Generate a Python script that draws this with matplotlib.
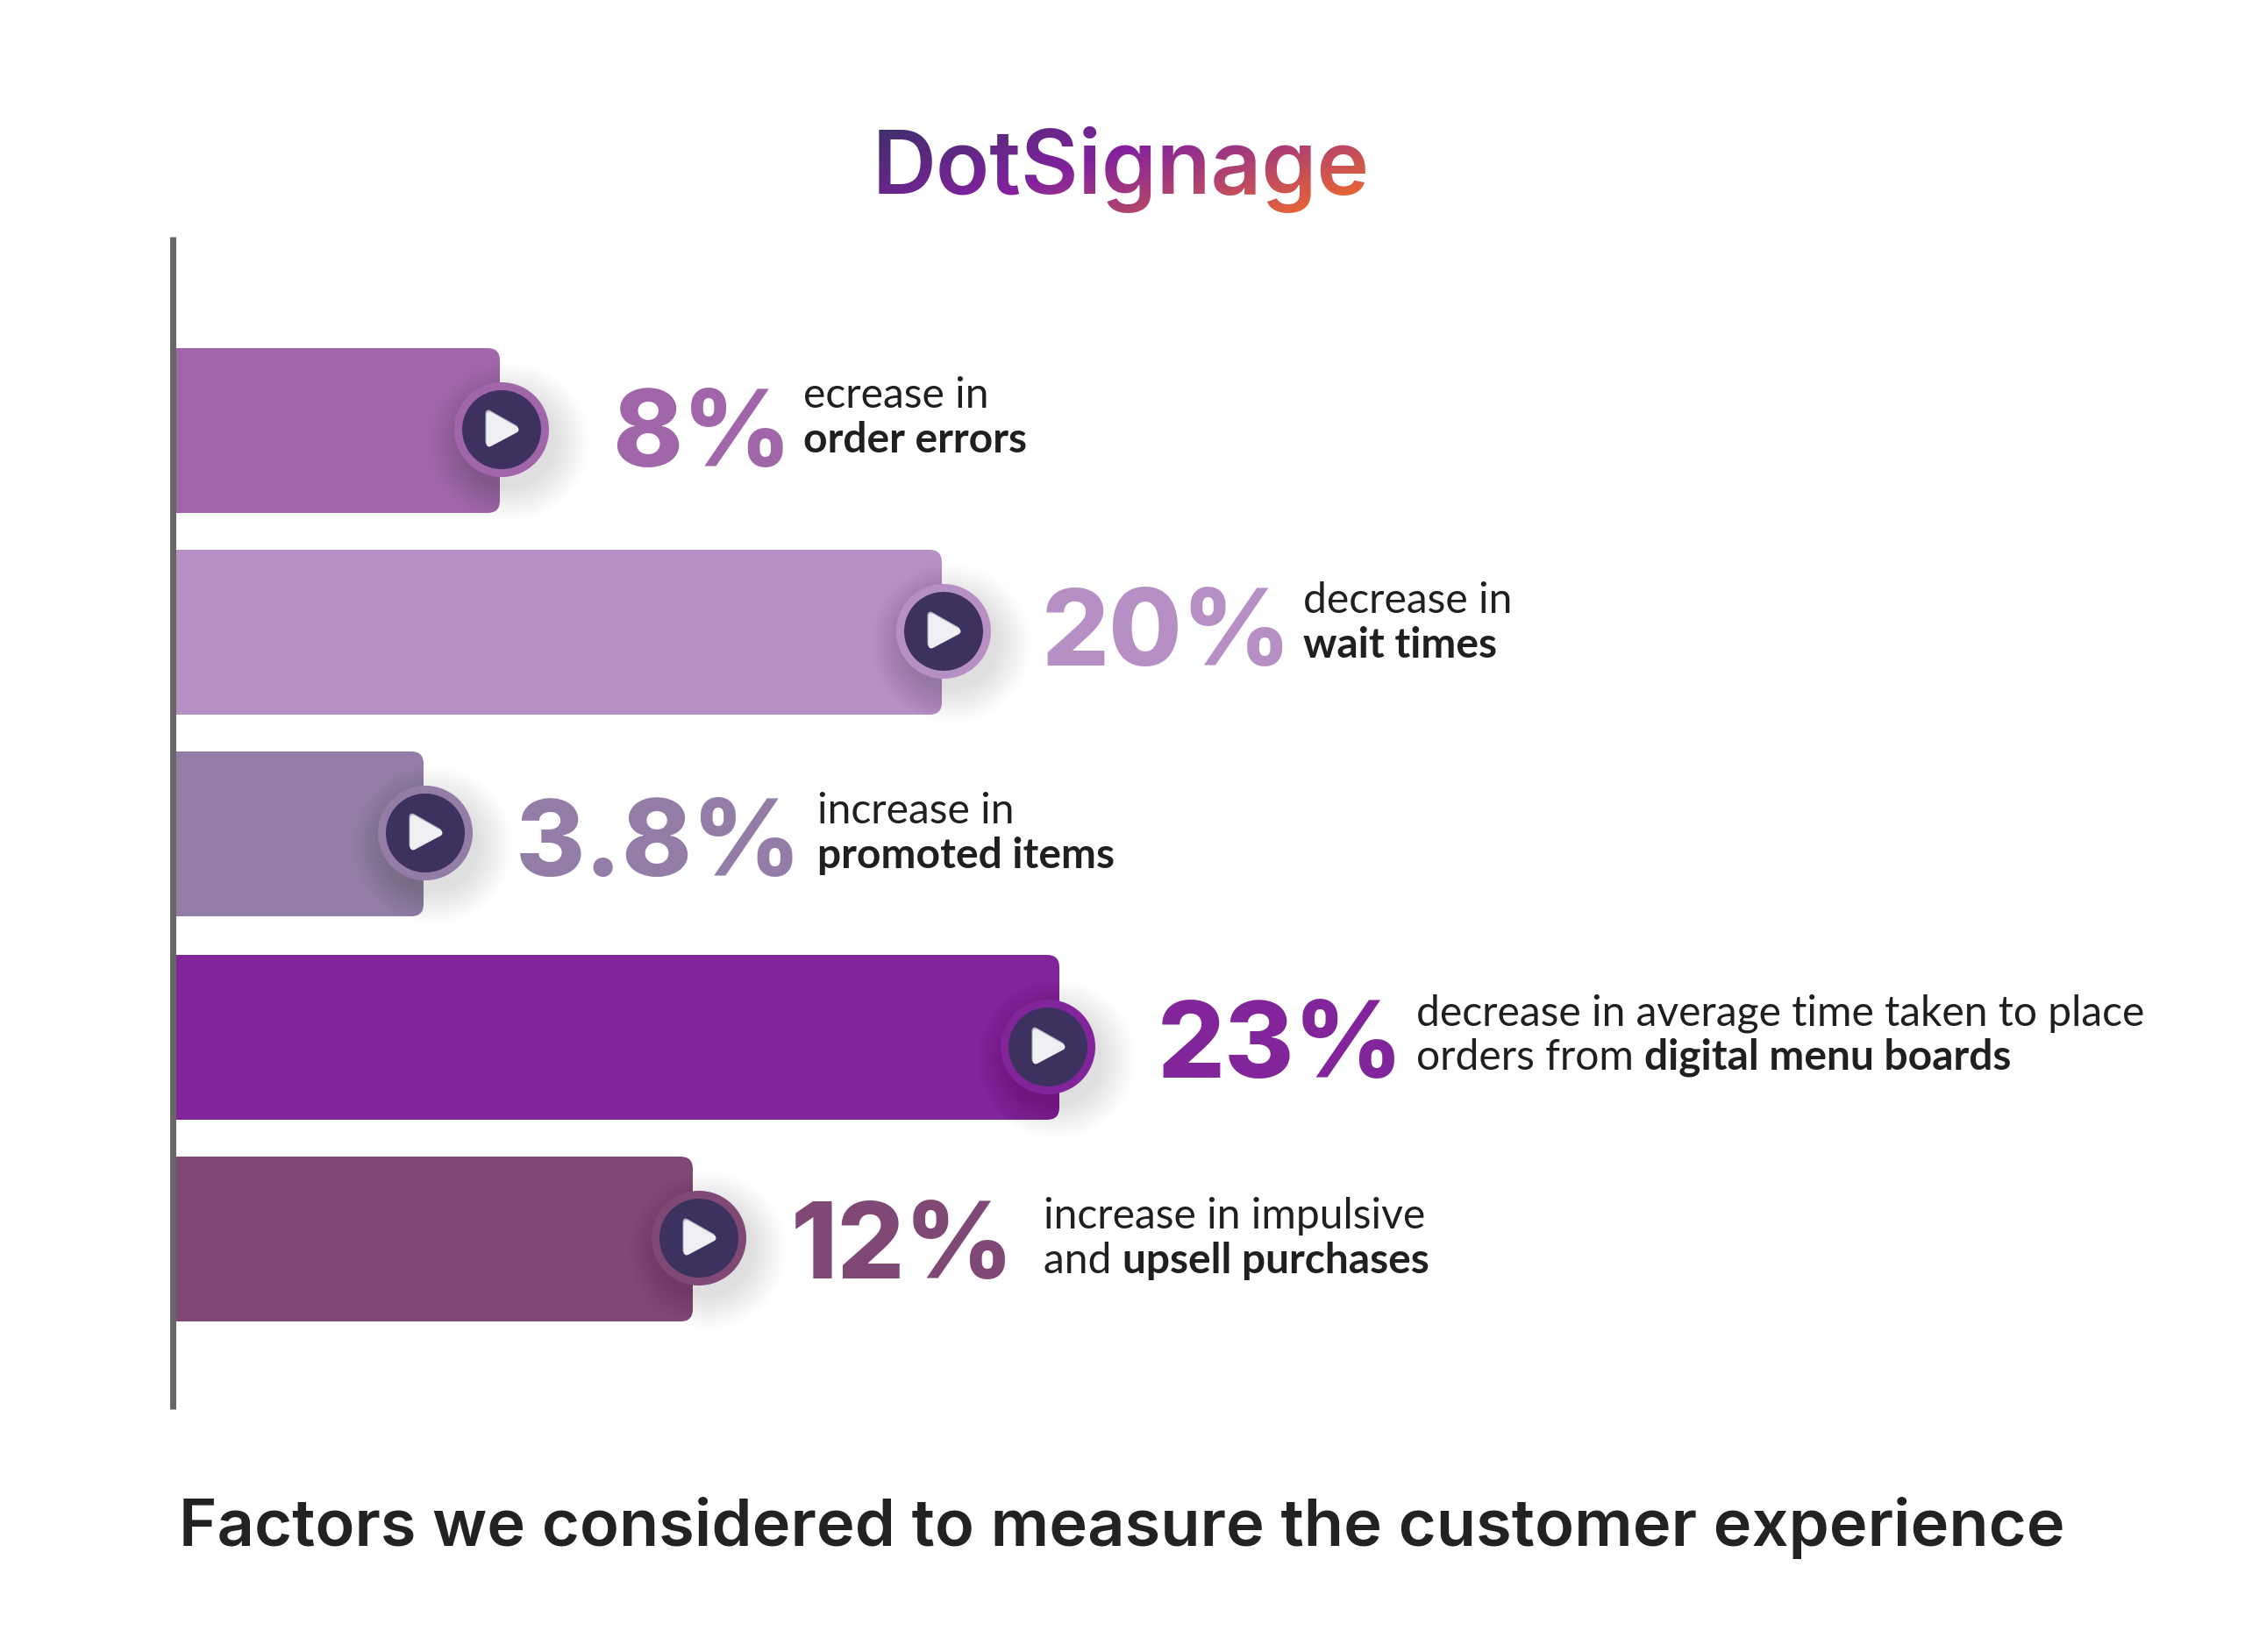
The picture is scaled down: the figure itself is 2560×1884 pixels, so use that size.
import numpy as np
import matplotlib
matplotlib.use("Agg")
import matplotlib.pyplot as plt
from matplotlib.patches import FancyBboxPatch, Rectangle, Circle, Polygon
from matplotlib.colors import to_rgb

# -------------------- data --------------------
value_labels = ["8%", "20%", "3.8%", "23%", "12%"]
bar_lengths = [371, 875, 284, 1009, 591]
bar_colors = ["#a166aa", "#b690c5", "#937ca6", "#82259b", "#804875"]
text_lines = [
    [[("ecrease in", False)], [("order errors", True)]],
    [[("decrease in", False)], [("wait times", True)]],
    [[("increase in", False)], [("promoted items", True)]],
    [[("decrease in average time taken to place", False)],
     [("orders from ", False), ("digital menu boards", True)]],
    [[("increase in impulsive", False)],
     [("and ", False), ("upsell purchases", True)]],
]
logo_text = "DotSignage"
title_text = "Factors we considered to measure the customer experience"

# -------------------- layout (pixels) --------------------
W, H = 2560, 1884
BAR_X = 199
BAR_H = 188
bar_tops = [397, 627, 857, 1089, 1319]
knob_xy = [(572, 490), (1076, 720), (485, 950), (1195, 1194), (797, 1412)]
num_xy = [(698, 532), (1188, 759), (588, 999), (1320, 1229), (902, 1458)]
txt_xy = [(916, 465), (1486, 699), (932, 939), (1615, 1169), (1190, 1401)]
LINE_GAP = 51

BODY_FONT = ["Lato", "DejaVu Sans"]
NUM_FONT = ["Inter", "DejaVu Sans"]
TITLE_FONT = ["Inter", "DejaVu Sans"]

fig = plt.figure(figsize=(W / 100, H / 100), dpi=100, facecolor="white")
ax = fig.add_axes([0, 0, 1, 1])
ax.set_xlim(0, W)
ax.set_ylim(H, 0)
ax.axis("off")
renderer = fig.canvas.get_renderer()

clip_rect = Rectangle((BAR_X, 0), W, H, transform=ax.transData)

# axis line
ax.plot([197, 197], [270, 1607], color="#666666", lw=5, solid_capstyle="butt", zorder=5)

# bars, right corners rounded only
for length, top, col in zip(bar_lengths, bar_tops, bar_colors):
    r = 14
    p = FancyBboxPatch((BAR_X - 40 + r, top + r), length + 40 - 2 * r, BAR_H - 2 * r,
                       boxstyle=f"round,pad={r},rounding_size={r}",
                       fc=col, ec="none", zorder=2)
    ax.add_patch(p)
    p.set_clip_path(clip_rect)


def draw_knob(cx, cy, col):
    # soft shadow from stacked circles
    for rad in np.arange(90, 50, -2.5):
        ax.add_patch(Circle((cx + 9, cy + 14), rad, fc="black", ec="none", alpha=0.006, zorder=3))
    ax.add_patch(Circle((cx, cy), 54, fc=col, ec="none", zorder=4))
    ax.add_patch(Circle((cx, cy), 45, fc="#3d3160", ec="none", zorder=4))
    tri = np.array([[-14, -17], [16, 0], [-14, 16]])
    ax.add_patch(Polygon(tri + [cx - 1, cy - 2], closed=True, fc="#b4b5bf", ec="#b4b5bf",
                         lw=5, joinstyle="round", zorder=4))
    ax.add_patch(Polygon(tri + [cx, cy], closed=True, fc="#eef0f3", ec="#eef0f3",
                         lw=5, joinstyle="round", zorder=4))


for (cx, cy), col in zip(knob_xy, bar_colors):
    draw_knob(cx, cy, col)

# big numbers
for lab, (x, y), col in zip(value_labels, num_xy, bar_colors):
    ax.text(x, y, lab, color=col, fontsize=87, fontweight="heavy", family=NUM_FONT,
            ha="left", va="baseline", zorder=6)

# descriptions, bold runs follow the regular ones on the same line
for lines, (x0, y0) in zip(text_lines, txt_xy):
    for i, runs in enumerate(lines):
        x = x0
        for s, bold in runs:
            t = ax.text(x, y0 + i * LINE_GAP, s, color="#1f1f1f", fontsize=34.6,
                        fontweight="bold" if bold else "normal", family=BODY_FONT,
                        ha="left", va="baseline", zorder=6)
            x = t.get_window_extent(renderer).x1


def gradient_filter(img, dpi):
    # recolour the logo along a diagonal, alpha stays from the text
    h, w = img.shape[:2]
    yy, xx = np.mgrid[0:h, 0:w]
    f = (xx / w * 0.8 + yy / h * 0.4) / 1.2
    stops = [0.0, 0.42, 0.66, 0.92]
    cols = [to_rgb(c) for c in ["#3f2e6b", "#82229e", "#b0426f", "#ea6632"]]
    out = img.copy()
    for k in range(3):
        out[..., k] = np.interp(f, stops, [c[k] for c in cols])
    return out, 0, 0


logo = ax.text(995, 221, logo_text, fontsize=72.6, fontweight="semibold", family=TITLE_FONT,
               color="#82229e", ha="left", va="baseline", zorder=6)
logo.set_agg_filter(gradient_filter)

ax.text(204, 1763, title_text, fontsize=53.3, fontweight="semibold", family=TITLE_FONT,
        color="#222222", ha="left", va="baseline", zorder=6)

fig.savefig("out.png", dpi=100, facecolor="white")
